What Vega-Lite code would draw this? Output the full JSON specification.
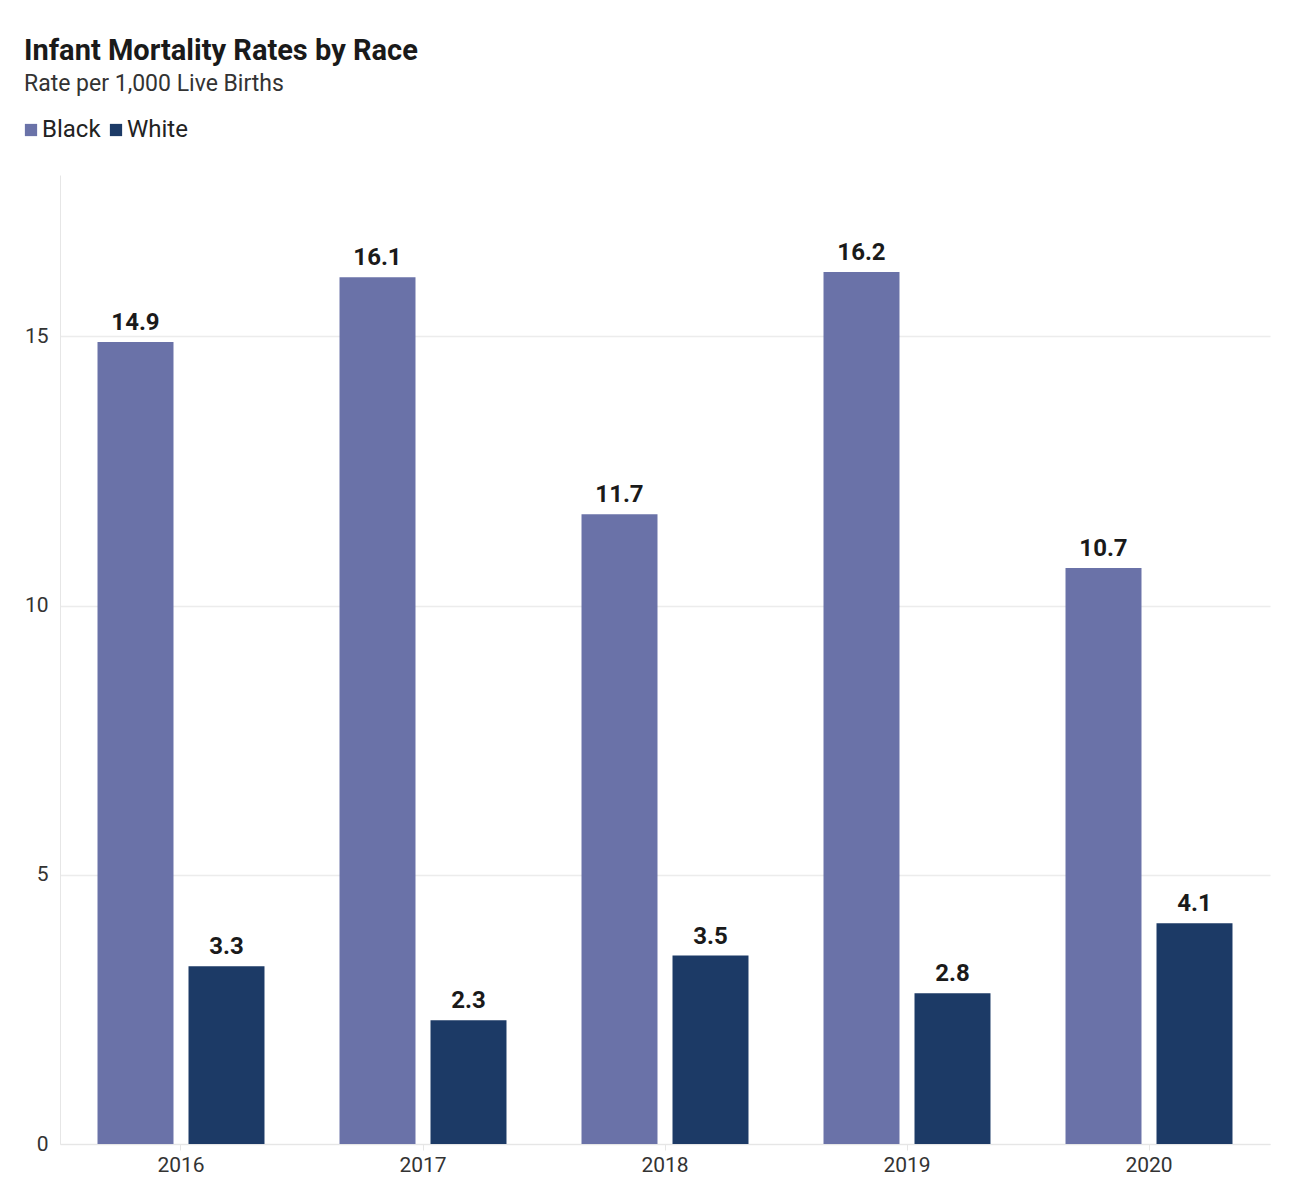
{
  "$schema": "https://vega.github.io/schema/vega-lite/v6.json",
  "width": 1210,
  "height": 969,
  "autosize": {"type": "none"},
  "padding": {"left": 60, "top": 175, "right": 29, "bottom": 50},
  "background": "white",
  "title": {
    "text": "Infant Mortality Rates by Race",
    "subtitle": "Rate per 1,000 Live Births",
    "anchor": "start",
    "frame": "bounds",
    "dx": 5,
    "font": "Roboto",
    "fontSize": 29,
    "fontWeight": "bold",
    "color": "#1a1a1a",
    "subtitleFont": "Roboto",
    "subtitleFontSize": 23,
    "subtitleColor": "#333333",
    "subtitlePadding": 7,
    "offset": 22
  },
  "data": {
    "values": [
      {"year": "2016", "race": "Black", "rate": 14.9},
      {"year": "2016", "race": "White", "rate": 3.3},
      {"year": "2017", "race": "Black", "rate": 16.1},
      {"year": "2017", "race": "White", "rate": 2.3},
      {"year": "2018", "race": "Black", "rate": 11.7},
      {"year": "2018", "race": "White", "rate": 3.5},
      {"year": "2019", "race": "Black", "rate": 16.2},
      {"year": "2019", "race": "White", "rate": 2.8},
      {"year": "2020", "race": "Black", "rate": 10.7},
      {"year": "2020", "race": "White", "rate": 4.1}
    ]
  },
  "encoding": {
    "x": {
      "field": "year",
      "type": "nominal",
      "scale": {"paddingInner": 0.31, "paddingOuter": 0.155},
      "axis": {
        "title": null,
        "labelAngle": 0,
        "labelFont": "Roboto",
        "labelFontSize": 21,
        "labelColor": "#333333",
        "labelPadding": 4,
        "tickSize": 6,
        "tickColor": "#e6e6e6",
        "domainColor": "#e6e6e6",
        "grid": false
      }
    },
    "xOffset": {
      "field": "race",
      "type": "nominal",
      "scale": {"paddingInner": 0.165, "paddingOuter": 0}
    },
    "y": {
      "field": "rate",
      "type": "quantitative",
      "scale": {"domain": [0, 18], "nice": false},
      "axis": {
        "title": null,
        "values": [0, 5, 10, 15],
        "labelFont": "Roboto",
        "labelFontSize": 21,
        "labelColor": "#333333",
        "labelPadding": 12,
        "ticks": false,
        "domain": true,
        "domainColor": "#e6e6e6",
        "gridColor": "#ececec",
        "gridWidth": 1.5
      }
    }
  },
  "layer": [
    {
      "mark": {"type": "bar", "stroke": null},
      "encoding": {
        "color": {
          "field": "race",
          "type": "nominal",
          "scale": {"domain": ["Black", "White"], "range": ["#6A72A8", "#1C3A66"]},
          "legend": {
            "title": null,
            "orient": "none",
            "direction": "horizontal",
            "legendX": -41,
            "legendY": -57,
            "symbolType": "square",
            "symbolSize": 150,
            "symbolStrokeWidth": 0,
            "labelFont": "Roboto",
            "labelFontSize": 24,
            "labelColor": "#222222",
            "labelOffset": -1,
            "columnPadding": 3
          }
        }
      }
    },
    {
      "mark": {
        "type": "text",
        "baseline": "alphabetic",
        "dy": -12,
        "font": "Roboto",
        "fontSize": 24,
        "fontWeight": "bold",
        "color": "#1a1a1a"
      },
      "encoding": {
        "text": {"field": "rate", "type": "quantitative", "format": ".1f"}
      }
    }
  ],
  "config": {
    "view": {"stroke": null}
  }
}
